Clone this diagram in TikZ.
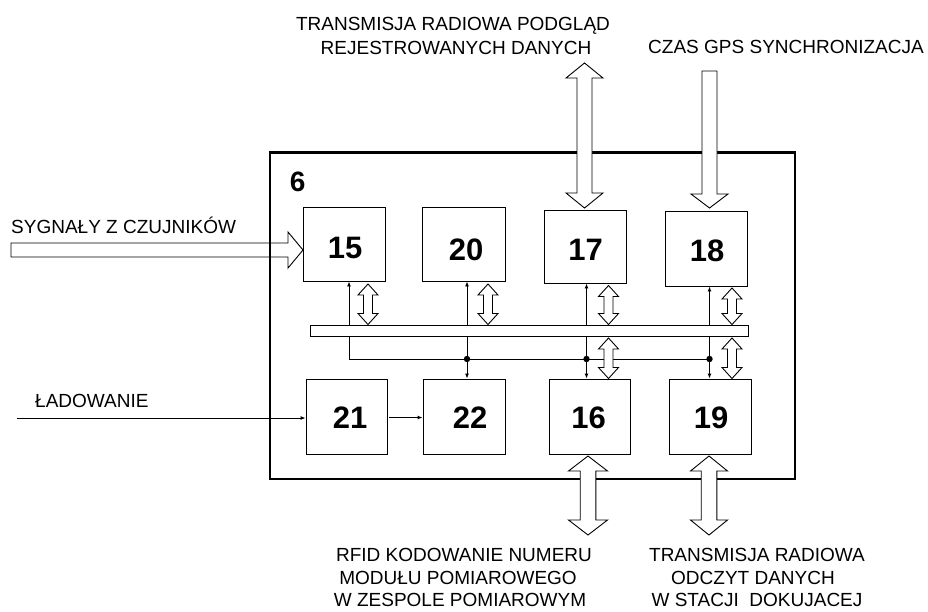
\documentclass[tikz,border=0pt]{standalone}
\usepackage{fontspec}
\setmainfont{Liberation Sans}
\usetikzlibrary{arrows.meta}
\newcommand{\DArrV}[6]{% x, top tip y, bottom tip y, shaft half, head half, head length
  \draw[hollow] (#1,#2) -- (#1+#5,#2+#6) -- (#1+#4,#2+#6) -- (#1+#4,#3-#6) -- (#1+#5,#3-#6) -- (#1,#3)
    -- (#1-#5,#3-#6) -- (#1-#4,#3-#6) -- (#1-#4,#2+#6) -- (#1-#5,#2+#6) -- cycle;}
\begin{document}
\begin{tikzpicture}[x=1pt,y=-1pt,
  box/.style={draw=black, line width=0.9pt, inner sep=0pt},
  num/.style={font=\fontsize{31}{31}\selectfont\bfseries, inner sep=0pt},
  lbl/.style={font=\fontsize{19}{19}\selectfont, inner sep=0pt, anchor=base},
  tipline/.style={line width=0.9pt, -{Latex[length=5pt,width=4pt]}},
  hollow/.style={draw=black, line width=0.9pt, fill=white, line join=miter},
  plain/.style={line width=0.9pt}]
\useasboundingbox (0,0) rectangle (928,611);

% outer box 6
\node[draw=black, line width=2.5pt, minimum width=525pt, minimum height=326.5pt, inner sep=0pt] (b6) at (532.5,315.75) {};
\node[font=\fontsize{28}{28}\selectfont\bfseries, inner sep=0pt] (n6) at (297.6,182) {6};

% boxes
\node[box, minimum width=82pt, minimum height=74pt] (b15) at (344.5,244) {};
\node[box, minimum width=82.4pt, minimum height=74pt] (b20) at (464,244) {};
\node[box, minimum width=82pt, minimum height=73pt] (b17) at (585,246.5) {};
\node[box, minimum width=82pt, minimum height=75pt] (b18) at (706,248.5) {};
\node[box, minimum width=81pt, minimum height=75pt] (b21) at (346.5,416.5) {};
\node[box, minimum width=82pt, minimum height=75pt] (b22) at (464,416.5) {};
\node[box, minimum width=81pt, minimum height=75pt] (b16) at (589.5,416.5) {};
\node[box, minimum width=82pt, minimum height=75pt] (b19) at (710,416.5) {};

\node[num] (n15) at (345,247.5) {15};
\node[num] (n20) at (466,250) {20};
\node[num] (n17) at (585.5,250) {17};
\node[num] (n18) at (707,251) {18};
\node[num] (n21) at (350,418) {21};
\node[num] (n22) at (470,418) {22};
\node[num] (n16) at (588.5,418) {16};
\node[num] (n19) at (711,418) {19};

% bus
\node[box, minimum width=437.5pt, minimum height=11pt] (bus) at (529.25,330.5) {};

% column coordinates
\coordinate (c1) at (349,0);
\coordinate (c2) at (467,0);
\coordinate (c3) at (586.5,0);
\coordinate (c4) at (709.5,0);
\coordinate (hl) at (0,359);

% thin lines with tips
\draw[tipline] (c1 |- bus.north) -- (c1 |- b15.south);
\draw[tipline] (c2 |- bus.north) -- (c2 |- b20.south);
\draw[tipline] (c3 |- bus.north) -- (c3 |- b17.south);
\draw[tipline] (c4 |- bus.north) -- (c4 |- b18.south);
\draw[plain] (c1 |- bus.south) -- (c1 |- hl) -- (c4 |- hl);
\draw[tipline] (c2 |- bus.south) -- (c2 |- b22.north);
\draw[tipline] (c3 |- bus.south) -- (c3 |- b16.north);
\draw[tipline] (c4 |- bus.south) -- (c4 |- b19.north);
\fill (c2 |- hl) circle (3.2);
\fill (c3 |- hl) circle (3.2);
\fill (c4 |- hl) circle (3.2);

% small double arrows
\DArrV{368}{284}{324.5}{4.5}{10}{11}
\DArrV{488}{284}{324.5}{4.5}{10}{11}
\DArrV{608.5}{285.5}{324.5}{4.5}{10}{11}
\DArrV{732}{288}{324.5}{4.5}{10}{11}
\DArrV{608.5}{338}{378.5}{4.5}{10}{11}
\DArrV{732}{338}{378.5}{4.5}{10}{11}

% big arrows
\DArrV{584.5}{63}{208}{7.5}{18.5}{15}
\DArrV{588}{456}{535}{7.8}{19.5}{15}
\DArrV{709}{456}{535}{7.8}{18.5}{15}
\draw[hollow] (702,71) -- (717,71) -- (717,194) -- (728,194) -- (709.5,208) -- (691,194) -- (702,194) -- cycle;
\draw[draw=black, line width=0.9pt, line join=miter] (11,243) -- (288,243) -- (288,232) -- (303,250) -- (288,268) -- (288,257) -- (11,257) -- cycle;

% charging input
\coordinate (ld) at (17,418);
\draw[tipline] (ld) -- (ld -| b21.west);
\draw[tipline] ([xshift=2pt]b21.east |- 0,417.5) -- (b22.west |- 0,417.5);

% labels
\node[lbl] (t1) at (453,30.5) {TRANSMISJA RADIOWA PODGLĄD};
\node[lbl] (t2) at (456,54) {REJESTROWANYCH DANYCH};
\node[lbl] (t3) at (786,53) {CZAS GPS SYNCHRONIZACJA};
\node[lbl, anchor=base west] (t4) at (11,233) {SYGNAŁY Z CZUJNIKÓW};
\node[lbl, anchor=base west] (t5) at (35,407) {ŁADOWANIE};
\node[lbl] (t6) at (464,561) {RFID KODOWANIE NUMERU};
\node[lbl] (t7) at (458,584) {MODUŁU POMIAROWEGO};
\node[lbl] (t8) at (460,606.5) {W ZESPOLE POMIAROWYM};
\node[lbl] (t9) at (757,561) {TRANSMISJA RADIOWA};
\node[lbl] (t10) at (753,584) {ODCZYT DANYCH};
\node[lbl] (t11) at (757,606.5) {W STACJI\ \ DOKUJACEJ};
\end{tikzpicture}
\end{document}
